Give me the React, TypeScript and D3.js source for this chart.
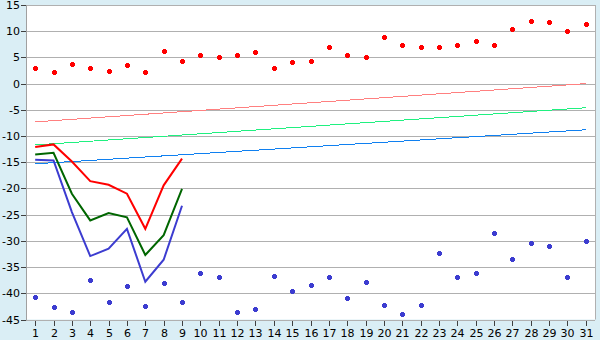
import React from "react";
import * as d3 from "d3";

const categories = Array.from({ length: 31 }, (_, i) => String(i + 1));
const yTicks = [15, 10, 5, 0, -5, -10, -15, -20, -25, -30, -35, -40, -45];

const redPoints = [2.9, 2.3, 3.8, 2.9, 2.5, 3.6, 2.3, 6.3, 4.4, 5.5, 5.0, 5.5, 6.1, 2.9, 4.2, 4.4, 6.9, 5.5, 5.0, 8.8, 7.45, 6.9, 6.9, 7.3, 8.2, 7.3, 10.5, 12.0, 11.85, 10.1, 11.3];
const bluePoints = [-40.7, -42.6, -43.5, -37.5, -41.7, -38.6, -42.4, -38.0, -41.7, -36.1, -36.9, -43.6, -43.0, -36.7, -39.6, -38.4, -36.9, -40.9, -37.8, -42.2, -44.0, -42.2, -32.3, -36.9, -36.1, -28.5, -33.4, -30.4, -31.0, -36.9, -30.0];

const redLine = [-12.1, -11.6, -14.85, -18.6, -19.3, -21.0, -27.7, -19.4, -14.3];
const greenLine = [-13.5, -13.2, -21.0, -26.1, -24.7, -25.5, -32.7, -28.9, -20.1];
const blueLine = [-14.5, -14.65, -24.5, -32.9, -31.5, -27.7, -37.8, -33.6, -23.3];

// trend lines: value at first and last category
const redTrend = [-7.3, 0.0];
const greenTrend = [-11.7, -4.6];
const blueTrend = [-15.3, -8.8];

const W = 600, H = 340;
const left = 26, right = 595, top = 5, bottom = 319.5;

export default function App() {
  const x = d3.scaleBand<string>().domain(categories).range([left, right]).padding(0);
  const cx = (c: string) => (x(c) as number) + x.bandwidth() / 2;
  const y = d3.scaleLinear().domain([-45, 15]).range([bottom, top]);

  const line = d3.line<number>().x((_, i) => cx(categories[i])).y((d) => y(d));
  const trend = (vals: number[]) =>
    d3.line<number>().x((_, i) => cx(categories[i === 0 ? 0 : categories.length - 1])).y((d) => y(d))(vals) as string;

  const marker = (px: number, py: number, color: string, key: string) => {
    const mx = Math.round(px), my = Math.round(py);
    return (
      <g key={key} fill={color} shapeRendering="crispEdges">
        <rect x={mx - 2} y={my - 1} width={5} height={3} />
        <rect x={mx - 1} y={my - 2} width={3} height={5} />
      </g>
    );
  };

  const font = "'DejaVu Sans', Verdana, sans-serif";

  return (
    <svg width={W} height={H} style={{ position: "absolute", left: 0, top: 0 }} fontFamily={font}>
      <rect x={0} y={0} width={W} height={H} fill="#daeef5" />
      <rect x={left} y={top} width={right - left} height={bottom - top} fill="#ffffff" />
      {yTicks.map((t) => (
        <g key={"g" + t}>
          <line x1={left} x2={right} y1={Math.round(y(t)) + 0.5} y2={Math.round(y(t)) + 0.5} stroke="#b0b0b0" strokeWidth={1} />
          <line x1={left - 5} x2={left} y1={Math.round(y(t)) + 0.5} y2={Math.round(y(t)) + 0.5} stroke="#404040" strokeWidth={1} />
          <text x={20} y={Math.round(y(t)) + 4} fontSize={11} textAnchor="end" fill="#000">{t}</text>
        </g>
      ))}
      <line x1={right + 0.5} x2={right + 0.5} y1={top} y2={bottom} stroke="#b0b0b0" />
      <line x1={left + 0.5} x2={left + 0.5} y1={top} y2={bottom + 1} stroke="#a0a0a0" />
      {categories.map((c) => (
        <g key={"x" + c}>
          <line x1={Math.round(cx(c)) + 0.5} x2={Math.round(cx(c)) + 0.5} y1={Math.round(bottom) + 1} y2={Math.round(bottom) + 6} stroke="#404040" />
          <text x={Math.round(cx(c)) + 0.5} y={337} fontSize={11} textAnchor="middle" fill="#000">{c}</text>
        </g>
      ))}
      <path d={trend(redTrend)} stroke="#ff8080" strokeWidth={1} fill="none" shapeRendering="crispEdges" />
      <path d={trend(greenTrend)} stroke="#20f080" strokeWidth={1} fill="none" shapeRendering="crispEdges" />
      <path d={trend(blueTrend)} stroke="#1080f0" strokeWidth={1} fill="none" shapeRendering="crispEdges" />
      <path d={line(redLine) as string} stroke="#ff0000" strokeWidth={2} fill="none" />
      <path d={line(greenLine) as string} stroke="#006600" strokeWidth={2} fill="none" />
      <path d={line(blueLine) as string} stroke="#3c3cd0" strokeWidth={2} fill="none" />
      {redPoints.map((v, i) => marker(cx(categories[i]), y(v), "#ff0000", "r" + i))}
      {bluePoints.map((v, i) => marker(cx(categories[i]), y(v), "#3c3cd0", "b" + i))}
    </svg>
  );
}
